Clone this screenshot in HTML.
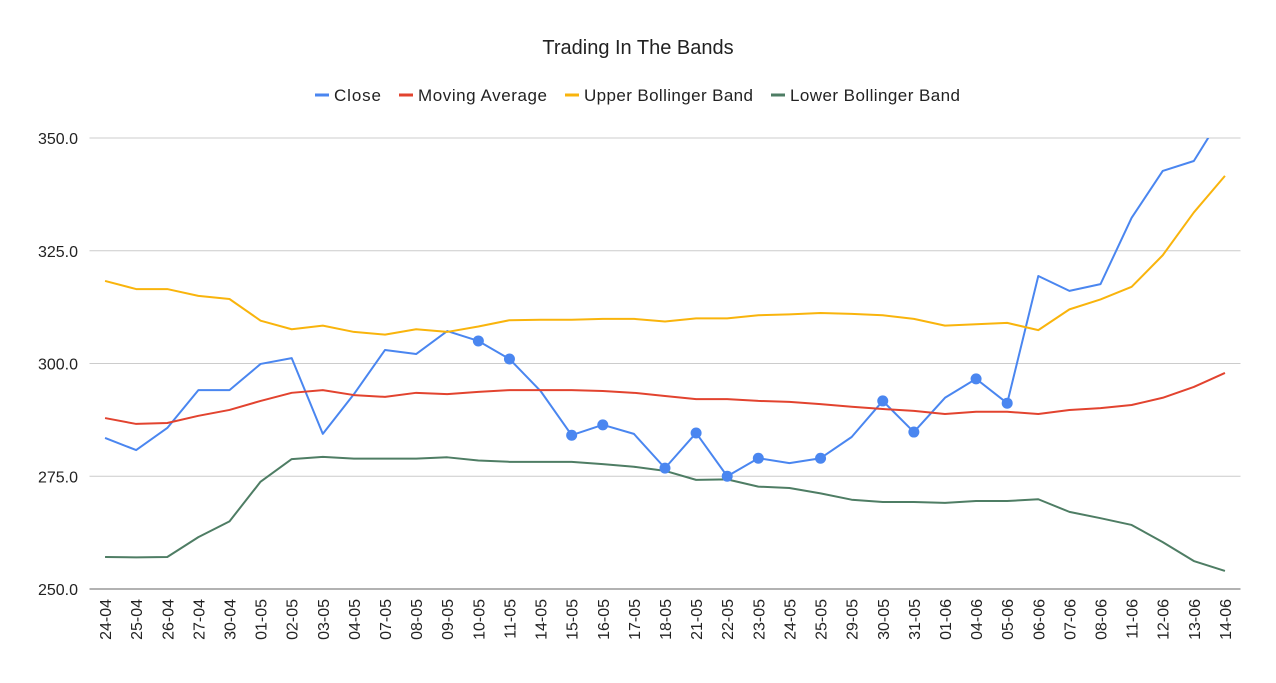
<!DOCTYPE html>
<html><head><meta charset="utf-8"><style>
body{margin:0;background:#fff;font-family:"Liberation Sans",Arial,sans-serif}
svg text{font-family:"Liberation Sans",Arial,sans-serif}
</style></head><body>
<svg id="chart" width="1276" height="678">
<text x="638" y="54" text-anchor="middle" font-size="20" fill="#222">Trading In The Bands</text>
<g id="legend"></g>
<g id="grid"></g>
<g id="series"></g>
<g id="xaxis"></g>
</svg>
<script>
const categories=["24-04","25-04","26-04","27-04","30-04","01-05","02-05","03-05","04-05","07-05","08-05","09-05","10-05","11-05","14-05","15-05","16-05","17-05","18-05","21-05","22-05","23-05","24-05","25-05","29-05","30-05","31-05","01-06","04-06","05-06","06-06","07-06","08-06","11-06","12-06","13-06","14-06"];
const closeValues=[283.5,280.8,285.7,294.1,294.1,299.9,301.2,284.4,293.2,303,302.1,307.2,305,301,293.9,284.1,286.4,284.4,276.8,284.6,275,279,277.9,279,283.7,291.7,284.8,292.4,296.6,291.2,319.4,316.1,317.6,332.3,342.7,344.9,356];
const maValues=[287.9,286.6,286.8,288.4,289.7,291.7,293.5,294.1,293,292.6,293.5,293.2,293.7,294.1,294.1,294.1,293.9,293.5,292.8,292.1,292.1,291.7,291.5,291,290.4,289.9,289.5,288.8,289.3,289.3,288.8,289.7,290.1,290.8,292.4,294.8,297.9];
const upperValues=[318.3,316.5,316.5,315,314.3,309.5,307.6,308.4,307,306.4,307.6,307,308.2,309.6,309.7,309.7,309.9,309.9,309.3,310,310,310.7,310.9,311.2,311,310.7,309.9,308.4,308.7,309,307.4,312,314.2,317,324,333.5,341.6];
const lowerValues=[257.1,257,257.1,261.5,265,273.8,278.8,279.3,278.9,278.9,278.9,279.2,278.5,278.2,278.2,278.2,277.7,277.1,276.2,274.2,274.3,272.7,272.4,271.2,269.8,269.3,269.3,269.1,269.5,269.5,269.9,267.1,265.7,264.2,260.4,256.2,254];
const markerIdx=[12,13,15,16,18,19,20,21,23,25,26,28,29];
const yTicks=[250,275,300,325,350];
const seriesNames=["Close","Moving Average","Upper Bollinger Band","Lower Bollinger Band"];
const NS="http://www.w3.org/2000/svg";
const L=89.5,R=1240.5,T=138,B=589,ymin=250,ymax=350;
const step=(R-L)/categories.length;
const xs=i=>L+(i+0.5)*step;
const ys=v=>B-(v-ymin)/(ymax-ymin)*(B-T);
function mk(tag,attrs,parent){const e=document.createElementNS(NS,tag);for(const k in attrs)e.setAttribute(k,attrs[k]);parent.appendChild(e);return e;}
const grid=document.getElementById('grid');
yTicks.forEach(v=>{
 const l=mk('line',{x1:L,x2:R,y1:ys(v),y2:ys(v),stroke:v===250?'#666':'#ccc','stroke-width':1},grid);
 
 
 const t=mk('text',{x:78,y:ys(v)+6,'text-anchor':'end','font-size':16,fill:'#222'},grid);
 t.textContent=v.toFixed(1);
 
 
});
const xa=document.getElementById('xaxis');
categories.forEach((c,i)=>{
 const t=mk('text',{transform:`translate(${xs(i)+6},${B+10}) rotate(-90)`,'text-anchor':'end','font-size':16,fill:'#222'},xa);
 t.textContent=c;
 
 
});
const defs=mk('defs',{},document.getElementById('chart'));
const cp=mk('clipPath',{id:'clip'},defs);
mk('rect',{x:L,y:T,width:R-L,height:B-T},cp);
const sg=document.getElementById('series');
sg.setAttribute('clip-path','url(#clip)');
const colors=["#4a86f0","#e2432f","#f9b40c","#4e7d64"];
[closeValues,maValues,upperValues,lowerValues].forEach((arr,k)=>{
 const p=mk('polyline',{points:arr.map((v,i)=>xs(i)+','+ys(v)).join(' '),fill:'none',stroke:colors[k],'stroke-width':2,'stroke-linejoin':'round'},sg);
 
 
});
markerIdx.forEach(i=>{
 const c=mk('circle',{cx:xs(i),cy:ys(closeValues[i]),r:5.5,fill:colors[0]},sg);
 
 
});
const lg=document.getElementById('legend');
const lx=[315,399,565,771];
seriesNames.forEach((n,k)=>{
 const l=mk('line',{x1:lx[k],x2:lx[k]+14,y1:95,y2:95,stroke:colors[k],'stroke-width':3},lg);
 
 
 const t=mk('text',{x:lx[k]+19,y:101,'font-size':17,fill:'#222'},lg);
 t.textContent=n;
 t.setAttribute('textLength',[47,129,169,170][k]);
 
 
});
</script>
</body></html>
